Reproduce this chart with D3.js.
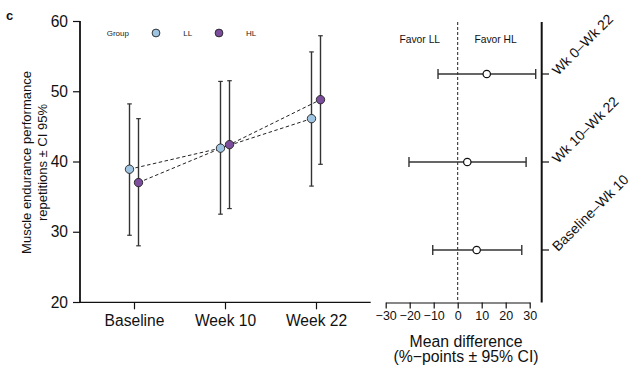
<!DOCTYPE html>
<html>
<head>
<meta charset="utf-8">
<script src="https://cdn.jsdelivr.net/npm/d3@7"></script>
<style>
  html, body { margin: 0; padding: 0; background: #fff; }
  svg { display: block; font-family: "Liberation Sans", Arial, Helvetica, sans-serif; }
</style>
</head>
<body>
<svg id="chart" width="636" height="367"></svg>
<script>
// Time points and groups
const timepoints = ["Baseline", "Week 10", "Week 22"];
const groups = ["LL", "HL"];
const groupColors = ["#9fc4e2", "#7b4d9c"];

// Repetitions (mean and 95% CI) per group
const llMean  = [38.9, 41.9, 46.1];
const llLower = [29.5, 32.5, 36.5];
const llUpper = [48.2, 51.4, 55.6];
const hlMean  = [37.0, 42.4, 48.8];
const hlLower = [28.0, 33.3, 39.6];
const hlUpper = [46.1, 51.5, 57.9];

// Between-group differences (HL − LL) per interval
const contrasts = ["Baseline–Wk 10", "Wk 10–Wk 22", "Wk 0–Wk 22"];
const diffMean  = [7.9, 4.0, 12.1];
const diffLower = [-10.4, -20.3, -8.2];
const diffUpper = [26.7, 28.5, 32.5];

const yTicks = [20, 30, 40, 50, 60];
const diffTicks = [-30, -20, -10, 0, 10, 20, 30];

const svg = d3.select("#chart");
const FONT = '"Liberation Sans", Arial, Helvetica, sans-serif';

// ---------- Left panel: group means over time ----------
const x = d3.scalePoint().domain(timepoints).range([134, 316]);
const y = d3.scaleLinear().domain([20, 60]).range([302, 21]);
const dodge = { LL: -4.5, HL: 4.5 };

const seriesData = [
  { group: "LL", color: groupColors[0], mean: llMean, lo: llLower, hi: llUpper },
  { group: "HL", color: groupColors[1], mean: hlMean, lo: hlLower, hi: hlUpper }
];

const left = svg.append("g");

// Axes
left.append("line").attr("x1", 80).attr("x2", 80).attr("y1", y(60)).attr("y2", y(20))
  .attr("stroke", "#111").attr("stroke-width", 1.8);
left.append("line").attr("x1", 80).attr("x2", 370.7).attr("y1", 302.3).attr("y2", 302.3)
  .attr("stroke", "#111").attr("stroke-width", 1.3);

const yAxis = left.append("g").attr("transform", "translate(80,0)")
  .call(d3.axisLeft(y).tickValues(yTicks).tickSize(7).tickPadding(5));
yAxis.select(".domain").remove();
yAxis.selectAll("line").attr("stroke", "#111").attr("stroke-width", 1.2);
yAxis.selectAll("text").attr("font-size", 15.6).attr("font-family", FONT).attr("fill", "#111");

const xAxis = left.append("g").attr("transform", "translate(0,302.3)")
  .call(d3.axisBottom(x).tickSize(7).tickPadding(6));
xAxis.select(".domain").remove();
xAxis.selectAll("line").attr("stroke", "#111").attr("stroke-width", 1.2);
xAxis.selectAll("text").attr("font-size", 15.6).attr("font-family", FONT).attr("fill", "#111");

// Y title
const yTitle = left.append("text")
  .attr("transform", "translate(31,162.5) rotate(-90)")
  .attr("text-anchor", "middle").attr("font-size", 13).attr("fill", "#111");
yTitle.append("tspan").attr("x", 0).attr("dy", 0).text("Muscle endurance performance");
yTitle.append("tspan").attr("x", 0).attr("dy", 16).text("repetitions ± CI 95%");

// Dashed connecting lines
seriesData.forEach(s => {
  const line = d3.line()
    .x((d, i) => x(timepoints[i]) + dodge[s.group])
    .y(d => y(d));
  left.append("path").datum(s.mean)
    .attr("d", line).attr("fill", "none")
    .attr("stroke", "#222").attr("stroke-width", 1).attr("stroke-dasharray", "3.5,2.5");
});

// Error bars and points
seriesData.forEach(s => {
  const g = left.append("g");
  s.mean.forEach((m, i) => {
    const cx = x(timepoints[i]) + dodge[s.group];
    g.append("line").attr("x1", cx).attr("x2", cx).attr("y1", y(s.lo[i])).attr("y2", y(s.hi[i]))
      .attr("stroke", "#333").attr("stroke-width", 1.4);
    [s.lo[i], s.hi[i]].forEach(v => {
      g.append("line").attr("x1", cx - 2.3).attr("x2", cx + 2.3).attr("y1", y(v)).attr("y2", y(v))
        .attr("stroke", "#333").attr("stroke-width", 1.2);
    });
  });
  s.mean.forEach((m, i) => {
    g.append("circle").attr("cx", x(timepoints[i]) + dodge[s.group]).attr("cy", y(m)).attr("r", 4.2)
      .attr("fill", s.color).attr("stroke", "#222").attr("stroke-width", 0.9);
  });
});

// Legend
const legend = left.append("g");
legend.append("text").attr("x", 106.7).attr("y", 36).attr("font-size", 8).attr("fill", "#222").text("Group");
const legendPos = [{ cx: 156, tx: 183.3 }, { cx: 219, tx: 246 }];
groups.forEach((gname, i) => {
  legend.append("circle").attr("cx", legendPos[i].cx).attr("cy", 33).attr("r", 3.9)
    .attr("fill", groupColors[i]).attr("stroke", "#222").attr("stroke-width", 0.9);
  legend.append("text").attr("x", legendPos[i].tx).attr("y", 36)
    .attr("font-size", 8).attr("fill", "#222").text(gname);
});

// Panel letter
svg.append("text").attr("x", 6).attr("y", 20).attr("font-size", 13).attr("font-weight", "bold")
  .attr("fill", "#111").text("c");

// ---------- Right panel: mean differences ----------
const dx = d3.scaleLinear().domain([-30, 30]).range([385.7, 529.7]);
const dy = d3.scalePoint().domain(contrasts).range([250, 74]);

const right = svg.append("g");

// Zero reference line
right.append("line").attr("x1", dx(0)).attr("x2", dx(0)).attr("y1", 22).attr("y2", 300.5)
  .attr("stroke", "#222").attr("stroke-width", 1).attr("stroke-dasharray", "3,2");

// Bottom axis
const dAxis = right.append("g").attr("transform", "translate(0,302.5)")
  .call(d3.axisBottom(dx).tickValues(diffTicks).tickSize(6).tickPadding(3).tickSizeOuter(0));
dAxis.select(".domain").attr("stroke", "#111").attr("stroke-width", 1.2);
dAxis.selectAll("line").attr("stroke", "#111").attr("stroke-width", 1.2);
dAxis.selectAll("text").attr("font-size", 12.5).attr("font-family", FONT).attr("fill", "#111");

// Right vertical axis with contrast labels
right.append("line").attr("x1", 541.7).attr("x2", 541.7).attr("y1", 22).attr("y2", 302.5)
  .attr("stroke", "#111").attr("stroke-width", 2);
contrasts.forEach(c => {
  right.append("line").attr("x1", 541.7).attr("x2", 549).attr("y1", dy(c)).attr("y2", dy(c))
    .attr("stroke", "#111").attr("stroke-width", 1.2);
  right.append("text")
    .attr("transform", `translate(558,${dy(c) + 2}) rotate(-45)`)
    .attr("font-size", 14).attr("fill", "#111").text(c);
});

// Favor labels
right.append("text").attr("x", dx(-15.8)).attr("y", 43.3).attr("text-anchor", "middle")
  .attr("font-size", 10.3).attr("fill", "#111").text("Favor LL");
right.append("text").attr("x", dx(15.8)).attr("y", 43.3).attr("text-anchor", "middle")
  .attr("font-size", 10.3).attr("fill", "#111").text("Favor HL");

// Intervals and point estimates
contrasts.forEach((c, i) => {
  const cy = dy(c);
  right.append("line").attr("x1", dx(diffLower[i])).attr("x2", dx(diffUpper[i])).attr("y1", cy).attr("y2", cy)
    .attr("stroke", "#333").attr("stroke-width", 1.4);
  [diffLower[i], diffUpper[i]].forEach(v => {
    right.append("line").attr("x1", dx(v)).attr("x2", dx(v)).attr("y1", cy - 5).attr("y2", cy + 5)
      .attr("stroke", "#333").attr("stroke-width", 1.4);
  });
  right.append("circle").attr("cx", dx(diffMean[i])).attr("cy", cy).attr("r", 3.7)
    .attr("fill", "#fff").attr("stroke", "#111").attr("stroke-width", 1.2);
});

// X title
const dTitle = right.append("text").attr("text-anchor", "middle").attr("font-size", 15.8).attr("fill", "#111");
dTitle.append("tspan").attr("x", 466).attr("y", 346.7).text("Mean difference");
dTitle.append("tspan").attr("x", 466).attr("y", 362).text("(%−points ± 95% CI)");
</script>
</body>
</html>
